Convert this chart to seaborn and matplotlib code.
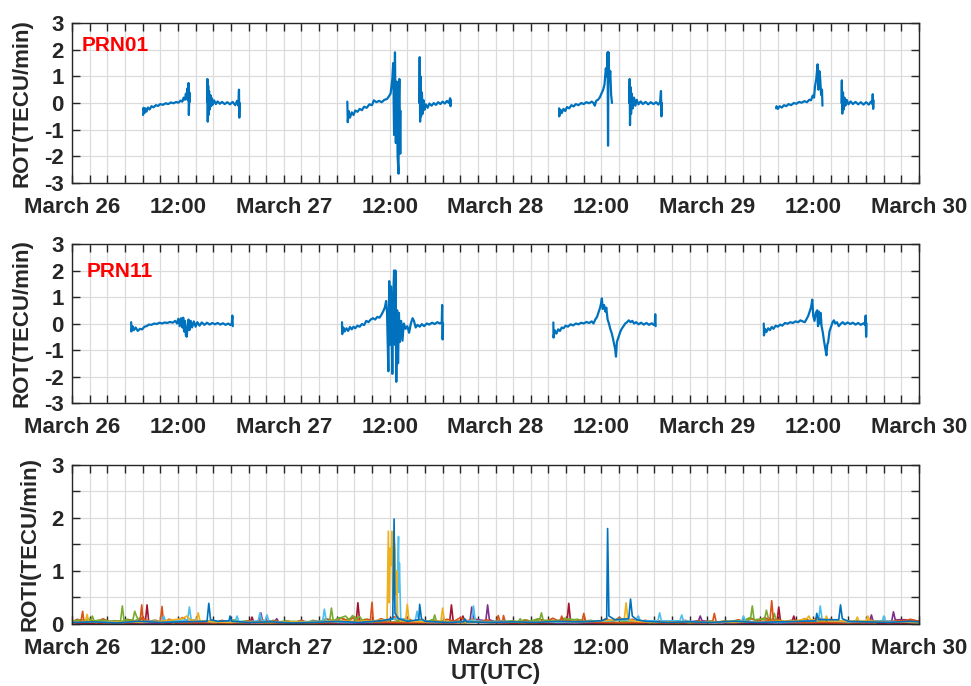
import matplotlib
matplotlib.use("Agg")
import matplotlib.pyplot as plt
import seaborn as sns
import pandas as pd
from matplotlib.ticker import FixedLocator, MultipleLocator

# ---------------- data (hours since March 26 00:00 UTC, value) ----------------
xtick_hours = [0, 12, 24, 36, 48, 60, 72, 84, 96]
xtick_labels = ["March 26", "12:00", "March 27", "12:00", "March 28",
                "12:00", "March 29", "12:00", "March 30"]

# PRN01 ROT arcs
p01_arc1 = [(8.05,-0.45),(8.1,-0.18),(8.2,-0.38),(8.3,-0.2),(8.45,-0.32),(8.6,-0.17),(8.8,-0.24),(9.0,-0.12),
            (9.25,-0.16),(9.5,-0.08),(9.75,-0.11),(10.0,-0.04),(10.3,-0.07),(10.6,-0.01),(10.9,-0.04),(11.2,0.02),
            (11.5,-0.01),(11.8,0.04),(12.05,0.01),(12.3,0.09),(12.5,0.05),(12.65,0.2),(12.8,0.12),(12.9,0.35),
            (13.0,0.15),(13.08,0.55),(13.14,0.1),(13.2,0.75),(13.24,-0.45),(13.3,0.4),(13.35,0.05)]
p01_arc2 = [(15.3,0.05),(15.34,0.9),(15.38,-0.7),(15.43,0.65),(15.48,-0.45),(15.53,0.45),(15.6,-0.25),(15.68,0.3),
            (15.76,-0.12),(15.85,0.18),(15.95,-0.06),(16.1,0.1),(16.3,-0.04),(16.5,0.06),(16.75,-0.03),(17.0,0.04),
            (17.3,-0.04),(17.6,0.03),(17.9,-0.05),(18.2,0.04),(18.5,-0.08),(18.7,0.08),(18.85,-0.1),(18.92,0.5),
            (18.96,-0.55),(19.0,0.0)]
p01_arc3 = [(31.2,0.05),(31.25,-0.72),(31.35,-0.3),(31.5,-0.55),(31.7,-0.35),(31.9,-0.45),(32.1,-0.28),(32.35,-0.33),
            (32.6,-0.22),(32.85,-0.27),(33.1,-0.14),(33.4,-0.18),(33.7,-0.05),(34.0,-0.08),(34.2,0.1),(34.5,0.03),
            (34.8,0.08),(35.1,0.03),(35.4,0.12),(35.7,0.15),(35.85,0.22),(36.1,0.35),(36.2,0.6),(36.3,0.9),
            (36.4,1.5),(36.5,-1.2),(36.6,1.9),(36.7,-1.5),(36.8,0.8),(36.9,-2.0),(37.0,-2.65),(37.05,0.2),
            (37.1,0.9),(37.2,-1.9),(37.25,-0.3)]
p01_arc3b = [(39.35,0.0),(39.4,1.72),(39.45,-0.7),(39.5,1.0),(39.56,-0.5),(39.65,0.4),(39.75,-0.4),(39.85,0.1),
             (39.95,-0.25),(40.1,-0.05),(40.3,-0.18),(40.5,-0.02),(40.75,-0.1),(41.0,0.0),(41.25,-0.07),(41.5,0.03),
             (41.75,-0.04),(42.0,0.05),(42.25,-0.02),(42.5,0.08),(42.7,0.0),(42.85,0.18),(42.9,-0.12),(42.95,0.1)]
p01_arc4 = [(55.2,-0.2),(55.22,-0.5),(55.35,-0.25),(55.5,-0.38),(55.7,-0.22),(55.9,-0.3),(56.1,-0.15),(56.35,-0.2),
            (56.6,-0.08),(56.85,-0.13),(57.1,-0.04),(57.4,-0.08),(57.7,0.0),(58.0,-0.04),(58.3,0.03),(58.6,-0.01),
            (58.9,0.05),(59.1,0.0),(59.25,-0.1),(59.4,0.08),(59.6,0.12),(59.8,0.2),(60.0,0.35),(60.2,0.5),
            (60.35,0.7),(60.5,1.3),(60.6,1.0),(60.7,1.9),(60.75,-1.6),(60.8,1.9),(60.9,0.8),(61.0,1.2),
            (61.1,0.3),(61.2,0.0)]
p01_arc4b = [(63.15,0.0),(63.2,0.9),(63.24,-0.83),(63.3,0.6),(63.36,-0.4),(63.45,0.35),(63.55,-0.2),(63.7,0.2),
             (63.85,-0.1),(64.0,0.12),(64.2,-0.05),(64.45,0.06),(64.7,-0.04),(65.0,0.04),(65.3,-0.05),(65.6,0.03),
             (65.9,-0.04),(66.2,0.03),(66.45,-0.06),(66.65,0.04),(66.75,0.45),(66.8,-0.5),(66.85,0.0)]
p01_arc5 = [(79.8,-0.2),(79.85,-0.12),(80.0,-0.22),(80.2,-0.12),(80.45,-0.17),(80.7,-0.08),(80.95,-0.12),(81.2,-0.04),
            (81.5,-0.08),(81.8,0.0),(82.1,-0.03),(82.4,0.04),(82.7,0.01),(83.0,0.07),(83.3,0.03),(83.55,0.12),
            (83.75,0.1),(83.95,0.28),(84.1,0.2),(84.2,0.6),(84.35,0.9),(84.5,1.45),(84.6,0.5),(84.7,1.2),
            (84.8,0.9),(84.9,0.3),(85.0,0.5),(85.05,-0.1)]
p01_arc5b = [(87.2,0.0),(87.25,0.85),(87.3,-0.4),(87.38,0.4),(87.45,-0.25),(87.55,0.2),(87.65,-0.1),(87.8,0.12),
             (88.0,-0.05),(88.25,0.06),(88.5,-0.04),(88.8,0.04),(89.1,-0.05),(89.4,0.03),(89.7,-0.06),(90.0,0.03),
             (90.3,-0.06),(90.55,0.05),(90.7,-0.04),(90.75,0.33),(90.8,-0.22),(90.85,0.1)]

# PRN11 ROT arcs
p11_arc1 = [(6.7,0.05),(6.72,-0.3),(6.85,-0.1),(7.0,-0.25),(7.2,-0.15),(7.45,-0.28),(7.7,-0.2),(7.95,-0.22),
            (8.2,-0.12),(8.45,-0.1),(8.7,-0.04),(9.0,-0.05),(9.3,0.0),(9.6,-0.02),(9.9,0.03),(10.2,0.0),
            (10.5,0.04),(10.8,0.02),(11.1,0.06),(11.4,0.03),(11.7,0.1),(11.9,0.0),(12.05,0.18),(12.2,-0.1),
            (12.35,0.2),(12.5,-0.15),(12.6,0.22),(12.7,-0.3),(12.8,0.1),(12.9,-0.45),(13.0,-0.5),(13.1,-0.1),
            (13.2,0.15),(13.3,-0.25),(13.45,0.1),(13.6,-0.15),(13.8,0.08),(14.0,-0.12),(14.2,0.05),(14.45,-0.08),
            (14.7,0.04),(15.0,-0.05),(15.3,0.03),(15.6,-0.04),(15.9,0.02),(16.2,-0.03),(16.5,0.02),(16.8,-0.04),
            (17.1,0.01),(17.4,-0.05),(17.7,0.0),(17.95,-0.06),(18.1,0.0),(18.17,0.3),(18.22,-0.1)]
p11_arc2 = [(30.6,0.05),(30.62,-0.4),(30.75,-0.15),(30.9,-0.3),(31.1,-0.18),(31.3,-0.28),(31.5,-0.13),(31.7,-0.22),
            (31.9,-0.12),(32.1,-0.18),(32.35,-0.08),(32.6,-0.12),(32.85,-0.02),(33.1,-0.06),(33.35,0.1),(33.6,0.05),
            (33.85,0.15),(34.1,0.2),(34.35,0.15),(34.6,0.25),(34.85,0.22),(35.05,0.32),(35.25,0.45),(35.45,0.6),
            (35.6,0.85),(35.7,0.4),(35.85,-1.8),(35.95,1.6),(36.05,-0.8),(36.15,1.4),(36.3,-1.9),(36.4,1.0),
            (36.5,2.0),(36.58,-0.8),(36.65,2.0),(36.75,-2.2),(36.85,0.5),(36.95,-1.5),(37.05,0.4),(37.15,-0.7),
            (37.3,0.1),(37.45,-0.65),(37.6,0.0),(37.8,-0.2),(38.0,-0.1),(38.2,-0.35),(38.4,0.0),(38.6,0.2),
            (38.75,0.1),(38.95,-0.15),(39.15,-0.05),(39.4,-0.12),(39.65,-0.02),(39.9,-0.1),(40.2,0.0),(40.5,-0.04),
            (40.8,0.03),(41.1,-0.02),(41.4,0.05),(41.7,0.0),(41.9,0.05),(41.95,0.7),(42.0,-0.6),(42.05,0.0)]
p11_arc3 = [(54.55,0.04),(54.57,-0.53),(54.7,-0.25),(54.9,-0.38),(55.1,-0.22),(55.3,-0.28),(55.5,-0.15),(55.7,-0.18),
            (55.95,-0.08),(56.2,-0.12),(56.5,-0.03),(56.8,-0.07),(57.1,0.0),(57.4,-0.03),(57.7,0.03),(58.0,0.0),
            (58.3,0.06),(58.6,0.02),(58.9,0.08),(59.1,0.0),(59.3,0.15),(59.5,0.25),(59.7,0.45),(59.85,0.6),
            (59.95,0.75),(60.05,0.95),(60.15,0.55),(60.3,0.7),(60.45,0.45),(60.55,0.6),(60.7,0.15),(60.85,0.0),
            (61.0,-0.2),(61.15,-0.35),(61.3,-0.55),(61.45,-0.8),(61.55,-0.95),(61.65,-1.25),(61.75,-0.7),(61.85,-0.6),
            (62.0,-0.45),(62.15,-0.3),(62.3,-0.2),(62.5,-0.1),(62.7,0.0),(62.9,0.05),(63.1,0.12),(63.3,0.05),
            (63.5,0.1),(63.7,0.0),(63.95,0.05),(64.2,-0.03),(64.5,0.03),(64.8,-0.04),(65.1,0.02),(65.4,-0.05),
            (65.7,0.01),(65.95,-0.06),(66.05,0.0),(66.1,0.35),(66.15,-0.1)]
p11_arc4 = [(78.4,0.0),(78.42,-0.45),(78.55,-0.2),(78.7,-0.32),(78.9,-0.18),(79.1,-0.25),(79.3,-0.13),(79.5,-0.2),
            (79.75,-0.08),(80.0,-0.12),(80.25,-0.04),(80.5,-0.08),(80.8,0.02),(81.1,-0.01),(81.4,0.05),(81.7,0.02),
            (82.0,0.08),(82.3,0.05),(82.55,0.12),(82.8,0.08),(83.05,0.05),(83.3,0.2),(83.45,0.3),(83.6,0.45),
            (83.75,0.6),(83.9,0.9),(84.0,0.3),(84.15,0.1),(84.3,0.4),(84.45,0.5),(84.55,-0.1),(84.65,0.45),
            (84.75,0.0),(84.85,0.4),(84.95,-0.1),(85.1,-0.35),(85.2,-0.6),(85.35,-0.9),(85.5,-1.2),(85.6,-0.8),
            (85.7,-0.7),(85.85,-0.3),(86.0,-0.15),(86.2,0.05),(86.35,0.12),(86.5,0.0),(86.7,0.05),(86.9,-0.1),
            (87.1,-0.02),(87.35,0.05),(87.6,-0.03),(87.9,0.04),(88.2,-0.02),(88.5,0.03),(88.8,-0.04),(89.1,0.02),
            (89.4,-0.05),(89.7,0.01),(89.9,-0.06),(89.95,0.3),(90.0,-0.5),(90.05,0.0)]

# ROTI series (all satellites, MATLAB colour order)
roti_blue = [(0,0.03),(2.5,0.04),(5,0.02),(7.5,0.05),(10,0.03),(12.5,0.04),(15.3,0.05),(15.5,0.39),(15.7,0.08),
             (16.5,0.05),(17.8,0.06),(17.9,0.15),(18.1,0.05),(20,0.03),(22.5,0.04),(25,0.02),(27.5,0.03),(30,0.05),
             (32.5,0.03),(35,0.06),(36.35,0.1),(36.5,1.98),(36.6,0.2),(37,0.1),(38,0.05),(39.3,0.08),(39.4,0.37),
             (39.6,0.1),(40,0.05),(42.5,0.03),(44.4,0.04),(44.5,0.1),(44.7,0.04),(47.5,0.03),(50,0.04),(52.5,0.03),
             (55,0.05),(57.5,0.04),(60,0.06),(60.6,0.1),(60.7,1.8),(60.85,0.15),(61.5,0.08),(63.1,0.1),(63.3,0.47),
             (63.5,0.15),(64,0.08),(65,0.05),(67.5,0.03),(70,0.04),(72.5,0.03),(75,0.05),(77.5,0.03),(80,0.04),
             (82.5,0.05),(84.3,0.06),(84.4,0.2),(84.6,0.08),(86.9,0.08),(87.1,0.36),(87.3,0.1),(88,0.05),(90,0.04),
             (92.5,0.03),(95,0.05),(96,0.04)]
roti_orange = [(0,0.02),(1.0,0.04),(1.2,0.24),(1.35,0.04),(3,0.03),(5,0.02),(7.7,0.04),(7.9,0.36),(8.05,0.04),
               (10.0,0.05),(10.2,0.33),(10.35,0.05),(12.5,0.02),(15,0.03),(17.5,0.02),(20,0.03),(22.5,0.02),(25,0.03),
               (27.5,0.02),(30,0.03),(33.8,0.04),(34.0,0.41),(34.15,0.04),(36,0.03),(38,0.02),(40,0.03),(42.5,0.02),
               (45,0.03),(48.1,0.04),(48.3,0.16),(48.5,0.05),(48.8,0.05),(48.9,0.16),(49.1,0.04),(51,0.02),(53,0.03),
               (55.3,0.04),(55.5,0.15),(55.7,0.04),(57.8,0.05),(58.0,0.2),(58.2,0.05),(60,0.03),(62.5,0.02),(65,0.03),
               (67.5,0.02),(70,0.03),(72.6,0.04),(72.8,0.2),(73.0,0.04),(75,0.03),(77.5,0.04),(79.1,0.06),(79.3,0.44),
               (79.5,0.06),(81,0.03),(83,0.02),(85,0.03),(87.5,0.02),(90,0.03),(92.5,0.04),(94,0.06),(95,0.08),(96,0.05)]
roti_yellow = [(0,0.03),(1.5,0.05),(1.7,0.18),(1.9,0.04),(4,0.03),(6,0.04),(8,0.03),(10,0.05),(11.5,0.08),(12.5,0.1),
               (13,0.15),(13.4,0.08),(14.1,0.06),(14.3,0.21),(14.5,0.06),(16,0.04),(18,0.03),(20,0.04),(22.5,0.03),
               (25,0.04),(27.5,0.03),(30,0.06),(32,0.05),(34,0.06),(35.7,0.08),(35.85,1.75),(35.95,0.4),(36.05,1.43),
               (36.15,1.1),(36.25,1.75),(36.35,0.45),(36.45,1.73),(36.6,1.43),(36.7,0.55),(36.8,1.0),(36.9,0.15),
               (37.2,0.06),(37.8,0.05),(38.0,0.37),(38.2,0.05),(40,0.04),(41.8,0.05),(42.0,0.3),(42.2,0.05),(44,0.03),
               (46,0.04),(48,0.03),(50,0.04),(52.5,0.03),(55,0.05),(57.5,0.04),(60,0.06),(61.5,0.08),(62.6,0.1),
               (62.8,0.4),(63.0,0.08),(64,0.05),(66,0.03),(68,0.04),(70,0.03),(72.5,0.04),(75,0.03),(77.5,0.04),
               (80,0.05),(82,0.06),(83.3,0.1),(83.5,0.15),(83.7,0.08),(85.3,0.06),(85.5,0.15),(85.7,0.06),(88.8,0.05),
               (89,0.13),(89.2,0.05),(90,0.06),(90.2,0.15),(90.4,0.05),(92.5,0.03),(95,0.04),(96,0.03)]
roti_purple = [(0,0.02),(3,0.01),(6,0.02),(9,0.01),(12,0.02),(15,0.02),(18,0.01),(21.2,0.03),(21.4,0.21),(21.6,0.05),
               (22.5,0.06),(23.0,0.05),(23.2,0.1),(23.4,0.04),(25,0.02),(28,0.01),(31,0.02),(34,0.01),(37,0.02),
               (40,0.03),(43,0.02),(45.1,0.05),(45.3,0.32),(45.5,0.1),(46,0.08),(46.9,0.06),(47.1,0.36),(47.3,0.08),
               (48,0.04),(51,0.02),(54,0.01),(57,0.02),(60,0.01),(63,0.02),(66,0.01),(69,0.02),(71.0,0.06),(71.2,0.15),
               (71.4,0.06),(74,0.02),(77,0.01),(80,0.02),(83,0.01),(86,0.02),(89,0.02),(90.4,0.05),(90.6,0.17),
               (90.8,0.05),(92.9,0.05),(93.1,0.23),(93.3,0.08),(94.5,0.08),(96,0.02)]
roti_green = [(0,0.05),(1,0.08),(2.1,0.06),(2.3,0.15),(2.5,0.06),(3.5,0.07),(4.5,0.05),(5.5,0.06),(5.7,0.34),(5.9,0.05),
              (6.9,0.08),(7.1,0.24),(7.3,0.15),(7.6,0.05),(9,0.04),(11,0.06),(13,0.04),(15,0.05),(17,0.04),(19,0.03),
              (21,0.04),(23,0.03),(25,0.05),(27,0.04),(29.2,0.06),(29.4,0.3),(29.6,0.06),(30.5,0.12),(31,0.15),
              (31.4,0.08),(31.8,0.16),(32.2,0.1),(32.6,0.14),(33,0.04),(35,0.03),(37,0.04),(39,0.05),(40.9,0.06),
              (41.1,0.17),(41.3,0.05),(43,0.04),(45,0.03),(47,0.04),(49,0.05),(50.6,0.05),(50.8,0.1),(51.0,0.04),
              (52,0.06),(53.0,0.08),(53.2,0.21),(53.4,0.07),(54.5,0.05),(56,0.1),(57,0.08),(58.5,0.06),(60,0.04),
              (62,0.03),(64,0.04),(66,0.03),(68,0.05),(70,0.04),(72,0.03),(74,0.05),(76,0.06),(76.9,0.1),(77.1,0.34),
              (77.3,0.08),(78.5,0.1),(78.7,0.26),(78.9,0.12),(79.4,0.08),(79.6,0.2),(79.8,0.06),(81,0.04),(83,0.05),
              (85,0.04),(87,0.06),(89,0.04),(91,0.05),(93,0.04),(95,0.03),(96,0.02)]
roti_lightblue = [(0,0.03),(3,0.04),(6,0.03),(9,0.05),(10.2,0.05),(10.4,0.15),(10.6,0.05),(12,0.06),(13.1,0.08),
                  (13.3,0.32),(13.5,0.08),(15,0.05),(17,0.04),(18.5,0.05),(18.7,0.15),(18.9,0.05),(20,0.04),(21.1,0.06),
                  (21.3,0.21),(21.5,0.06),(21.9,0.06),(22.1,0.17),(22.3,0.05),(24,0.03),(26,0.04),(28.4,0.05),
                  (28.6,0.28),(28.8,0.06),(30,0.04),(32,0.03),(34,0.05),(36.8,0.1),(37.0,1.65),(37.05,0.6),(37.1,1.15),
                  (37.25,0.1),(38.5,0.06),(38.9,0.06),(39.1,0.24),(39.3,0.06),(41,0.04),(43,0.03),(45.3,0.06),
                  (45.5,0.34),(45.7,0.06),(47,0.04),(49,0.05),(51,0.03),(53,0.04),(55,0.03),(57,0.04),(59,0.05),
                  (61,0.06),(62,0.08),(64.0,0.06),(64.2,0.15),(64.4,0.06),(66.4,0.06),(66.6,0.21),(66.8,0.06),
                  (68.9,0.06),(69.1,0.17),(69.3,0.06),(71,0.04),(73,0.03),(75.9,0.05),(76.1,0.15),(76.3,0.05),
                  (78,0.04),(80,0.03),(82,0.05),(84.6,0.06),(84.8,0.34),(85.0,0.1),(86,0.06),(88,0.04),(90,0.05),
                  (91.8,0.05),(92.0,0.15),(92.2,0.05),(94,0.04),(96,0.03)]
roti_darkred = [(0,0.01),(3,0.02),(6,0.01),(8.3,0.03),(8.5,0.36),(8.7,0.03),(11,0.02),(14,0.01),(17,0.02),(20.2,0.03),
                (20.4,0.13),(20.6,0.03),(23,0.02),(26,0.01),(29,0.02),(32.2,0.04),(32.4,0.4),(32.6,0.04),(35,0.02),
                (38,0.01),(40,0.02),(42.8,0.04),(43.0,0.36),(43.2,0.05),(44.1,0.05),(44.3,0.15),(44.5,0.05),(46,0.03),
                (49,0.02),(52,0.01),(54,0.02),(56.1,0.04),(56.3,0.39),(56.5,0.04),(59,0.02),(62,0.01),(65,0.02),
                (68,0.01),(71,0.02),(74,0.03),(77,0.02),(79.9,0.04),(80.1,0.32),(80.3,0.04),(81.6,0.04),(81.8,0.15),
                (82.0,0.04),(84,0.02),(87,0.01),(90,0.02),(93,0.01),(96,0.02)]
roti_orange2 = [(0,0.04),(0.6,0.09),(1.3,0.03),(2.0,0.07),(2.8,0.02),(3.5,0.1),(4.2,0.04),(5.0,0.06),(5.8,0.02),
                (6.5,0.08),(7.3,0.03),(8.0,0.11),(8.8,0.04),(9.5,0.07),(10.3,0.02),(11.0,0.09),(11.8,0.05),(12.5,0.12),
                (13.3,0.04),(14.0,0.08),(14.8,0.03),(15.5,0.06),(16.3,0.02),(17.0,0.07),(17.8,0.03),(18.5,0.05),
                (19.3,0.02),(20.0,0.06),(20.8,0.03),(21.5,0.08),(22.3,0.04),(23.0,0.06),(23.8,0.02),(24.5,0.05),
                (25.3,0.03),(26.0,0.07),(26.8,0.02),(27.5,0.06),(28.3,0.03),(29.0,0.09),(29.8,0.05),(30.5,0.11),
                (31.3,0.06),(32.0,0.13),(32.8,0.05),(33.5,0.09),(34.3,0.04),(35.0,0.1),(35.8,0.06),(36.5,0.14),
                (37.3,0.07),(38.0,0.11),(38.8,0.04),(39.5,0.08),(40.3,0.03),(41.0,0.07),(41.8,0.04),(42.5,0.09),
                (43.3,0.05),(44.0,0.12),(44.8,0.06),(45.5,0.1),(46.3,0.04),(47.0,0.08),(47.8,0.03),(48.5,0.06),
                (49.3,0.02),(50.0,0.05),(50.8,0.03),(51.5,0.07),(52.3,0.04),(53.0,0.09),(53.8,0.05),(54.5,0.11),
                (55.3,0.04),(56.0,0.08),(56.8,0.03),(57.5,0.07),(58.3,0.04),(59.0,0.06),(59.8,0.03),(60.5,0.1),
                (61.3,0.05),(62.0,0.12),(62.8,0.06),(63.5,0.09),(64.3,0.04),(65.0,0.07),(65.8,0.03),(66.5,0.06),
                (67.3,0.02),(68.0,0.05),(68.8,0.03),(69.5,0.07),(70.3,0.02),(71.0,0.06),(71.8,0.03),(72.5,0.05),
                (73.3,0.02),(74.0,0.06),(74.8,0.03),(75.5,0.08),(76.3,0.04),(77.0,0.1),(77.8,0.05),(78.5,0.12),
                (79.3,0.06),(80.0,0.09),(80.8,0.04),(81.5,0.07),(82.3,0.03),(83.0,0.1),(83.8,0.05),(84.5,0.13),
                (85.3,0.06),(86.0,0.09),(86.8,0.04),(87.5,0.07),(88.3,0.03),(89.0,0.06),(89.8,0.03),(90.5,0.08),
                (91.3,0.04),(92.0,0.06),(92.8,0.03),(93.5,0.07),(94.3,0.04),(95.0,0.09),(96,0.05)]
roti_green2 = [(0.3,0.06),(1.0,0.03),(1.8,0.1),(2.5,0.05),(3.3,0.08),(4.0,0.03),(4.8,0.06),(5.5,0.04),(6.3,0.09),
               (7.0,0.05),(7.8,0.12),(8.5,0.04),(9.3,0.07),(10.0,0.03),(10.8,0.05),(11.5,0.02),(12.3,0.06),(13.0,0.03),
               (13.8,0.07),(14.5,0.04),(15.3,0.05),(16.0,0.02),(16.8,0.06),(17.5,0.03),(18.3,0.08),(19.0,0.04),
               (19.8,0.06),(20.5,0.03),(21.3,0.05),(22.0,0.02),(22.8,0.07),(23.5,0.04),(24.3,0.06),(25.0,0.03),
               (25.8,0.05),(26.5,0.02),(27.3,0.07),(28.0,0.04),(28.8,0.1),(29.5,0.05),(30.3,0.12),(31.0,0.08),
               (31.8,0.11),(32.5,0.06),(33.3,0.09),(34.0,0.04),(34.8,0.07),(35.5,0.05),(36.3,0.1),(37.0,0.06),
               (37.8,0.08),(38.5,0.04),(39.3,0.06),(40.0,0.03),(40.8,0.08),(41.5,0.04),(42.3,0.06),(43.0,0.03),
               (43.8,0.05),(44.5,0.02),(45.3,0.06),(46.0,0.03),(46.8,0.05),(47.5,0.02),(48.3,0.07),(49.0,0.04),
               (49.8,0.06),(50.5,0.03),(51.3,0.08),(52.0,0.05),(52.8,0.1),(53.5,0.06),(54.3,0.08),(55.0,0.04),
               (55.8,0.11),(56.5,0.07),(57.3,0.09),(58.0,0.05),(58.8,0.07),(59.5,0.03),(60.3,0.06),(61.0,0.04),
               (61.8,0.08),(62.5,0.05),(63.3,0.07),(64.0,0.03),(64.8,0.05),(65.5,0.02),(66.3,0.06),(67.0,0.03),
               (67.8,0.05),(68.5,0.02),(69.3,0.04),(70.0,0.02),(70.8,0.05),(71.5,0.03),(72.3,0.06),(73.0,0.03),
               (73.8,0.05),(74.5,0.04),(75.3,0.07),(76.0,0.05),(76.8,0.12),(77.5,0.07),(78.3,0.1),(79.0,0.06),
               (79.8,0.09),(80.5,0.04),(81.3,0.06),(82.0,0.03),(82.8,0.07),(83.5,0.05),(84.3,0.08),(85.0,0.04),
               (85.8,0.06),(86.5,0.03),(87.3,0.05),(88.0,0.02),(88.8,0.06),(89.5,0.03),(90.3,0.05),(91.0,0.02),
               (91.8,0.06),(92.5,0.04),(93.3,0.05),(94.0,0.03),(94.8,0.06),(95.5,0.04)]

# ---------------- style ----------------
sns.set_style("white")
plt.rcParams["font.family"] = ["Liberation Sans", "DejaVu Sans"]
plt.rcParams["font.weight"] = "bold"
plt.rcParams["axes.labelweight"] = "bold"
plt.rcParams["axes.unicode_minus"] = False

TXT = "#262626"
ROT_COLOR = "#0072BD"

fig = plt.figure(figsize=(9.71, 6.86), dpi=100)
positions = [[0.0742, 0.7332, 0.8723, 0.2333],
             [0.0742, 0.4125, 0.8723, 0.2318],
             [0.0742, 0.0904, 0.8723, 0.2318]]
axes = [fig.add_axes(p) for p in positions]


def style_axis(ax, ylim, yticks, yminor, ylabel):
    ax.set_xlim(0, 96)
    ax.set_ylim(*ylim)
    ax.xaxis.set_major_locator(FixedLocator(xtick_hours))
    ax.set_xticklabels(xtick_labels)
    ax.xaxis.set_minor_locator(MultipleLocator(2))
    ax.set_yticks(yticks)
    ax.set_yticklabels([f"{v:g}" for v in yticks])
    if yminor:
        ax.yaxis.set_minor_locator(MultipleLocator(yminor))
    ax.set_axisbelow(True)
    ax.grid(True, which="both", color="#dcdcdc", lw=0.9)
    ax.tick_params(which="both", direction="in", top=True, right=True, bottom=True, left=True,
                   length=6, width=1.0, color=TXT, labelsize=16, labelcolor=TXT)
    ax.tick_params(axis="x", which="both", pad=10)
    ax.tick_params(axis="y", which="both", pad=6)
    for s in ax.spines.values():
        s.set_color(TXT)
        s.set_linewidth(1.0)
        s.set_visible(True)
    ax.set_ylabel(ylabel, fontsize=16, fontweight="bold", color=TXT, labelpad=8)
    ax.set_xlabel("")


def draw_arcs(ax, arcs, color, lw):
    for arc in arcs:
        df = pd.DataFrame(arc, columns=["t", "v"])
        sns.lineplot(data=df, x="t", y="v", ax=ax, color=color, lw=lw,
                     estimator=None, sort=False)


draw_arcs(axes[0], [p01_arc1, p01_arc2, p01_arc3, p01_arc3b, p01_arc4, p01_arc4b, p01_arc5, p01_arc5b],
          ROT_COLOR, 1.6)
draw_arcs(axes[1], [p11_arc1, p11_arc2, p11_arc3, p11_arc4], ROT_COLOR, 1.6)

roti_series = [(roti_purple, "#7E2F8E"), (roti_darkred, "#A2142F"), (roti_green2, "#77AC30"),
               (roti_orange2, "#D95319"), (roti_green, "#77AC30"),
               (roti_orange, "#D95319"), (roti_lightblue, "#4DBEEE"), (roti_yellow, "#EDB120"),
               (roti_blue, "#0072BD")]
for series, col in roti_series:
    draw_arcs(axes[2], [series], col, 1.2)

style_axis(axes[0], (-3, 3), [-3, -2, -1, 0, 1, 2, 3], None, "ROT(TECU/min)")
style_axis(axes[1], (-3, 3), [-3, -2, -1, 0, 1, 2, 3], None, "ROT(TECU/min)")
style_axis(axes[2], (0, 3), [0, 1, 2, 3], 0.5, "ROTI(TECU/min)")
axes[2].set_xlabel("UT(UTC)", fontsize=16, fontweight="bold", color=TXT, labelpad=3)

axes[0].text(1.1, 2.15, "PRN01", color="red", fontsize=15, fontweight="bold", va="center", ha="left")
axes[1].text(1.6, 1.95, "PRN11", color="red", fontsize=15, fontweight="bold", va="center", ha="left")

fig.savefig("out.png", dpi=100)
